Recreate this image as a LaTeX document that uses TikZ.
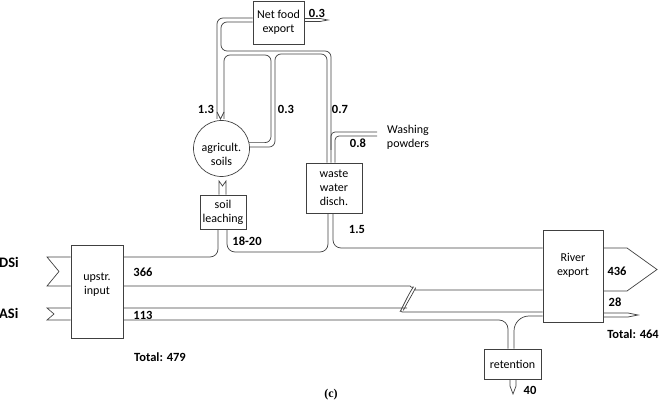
\documentclass[tikz,border=0pt]{standalone}
\usepackage{fontspec}
\setmainfont{Carlito}
\newfontfamily\capfont{Liberation Serif}

\begin{document}
\begin{tikzpicture}[x=1pt,y=-1pt,
    line/.style={line width=0.7pt, draw=black!75},
    flow/.style={line, rounded corners=6pt},
    box/.style={line, fill=white, align=center, inner sep=0pt, font=\fontsize{12}{14}\selectfont},
    txt/.style={align=center, inner sep=0pt, font=\fontsize{12}{14}\selectfont},
    num/.style={inner sep=0pt, font=\bfseries\fontsize{12.5}{14}\selectfont},
    big/.style={inner sep=0pt, anchor=west, font=\bfseries\fontsize{14.5}{16}\selectfont}]
    \useasboundingbox (0,0) rectangle (662,403);

    % Draw boxes and the soil pool
    \node[box, minimum width=52pt, minimum height=93pt] (upstr) at (97,291.5) {};
    \node[txt] (upstrtxt) at (97,285) {upstr.\\input};
    \node[box, minimum width=60pt, minimum height=92pt] (river) at (573,276) {};
    \node[txt] (rivertxt) at (573,265) {River\\export};
    \node[box, minimum width=57pt, minimum height=30pt] (ret) at (512.5,364) {retention};
    \node[box, minimum width=56pt, minimum height=50pt] (waste) at (334,188) {waste\\water\\disch.};
    \node[box, minimum width=46pt, minimum height=34pt] (leach) at (223,212) {soil\\leaching};
    \node[box, minimum width=51pt, minimum height=43pt] (net) at (278.5,22.5) {Net food\\export};
    \node[line, circle, minimum size=56pt, inner sep=0pt] (soils) at (221.5,148.5) {};
    \node[txt] (soilstxt) at (221.5,154) {agricult.\\soils};

    % Inflow tails
    \draw[line] (upstr.west |- 0,257) -- (47,257) -- (59,271.5) -- (47,286) -- (upstr.west |- 0,286);
    \draw[line] (upstr.west |- 0,308) -- (47,308) -- (54,314) -- (47,320) -- (upstr.west |- 0,320);

    % DSi band, fed by leaching and waste water
    \draw[flow, rounded corners=8pt] (upstr.east |- 0,257) -- (218,257) -- (leach.south -| 218,0);
    \draw[flow, rounded corners=8pt] (leach.south -| 227,0) -- (227,252) -- (328,252) -- (waste.south -| 328,0);
    \draw[flow, rounded corners=8pt] (waste.south -| 333,0) -- (333,248) -- (river.west |- 0,248);
    \draw[flow] (upstr.east |- 0,286) -- (404,286) .. controls (411,286) and (412,289) .. (410,292)
        -- (403,306) .. controls (401,310) and (403,312) .. (408,312) -- (river.west |- 0,312);

    % ASi band and retention
    \draw[flow] (upstr.east |- 0,308) -- (401,308) .. controls (405,308) and (405,307) .. (406,305)
        -- (413,293) .. controls (414,291) and (415,290) .. (420,290) -- (river.west |- 0,290);
    \draw[flow, rounded corners=9pt] (upstr.east |- 0,320) -- (508,320) -- (ret.north -| 508,0);
    \draw[flow, rounded corners=15pt] (ret.north -| 514,0) -- (514,316) -- (river.west |- 0,316);
    \draw[line] (ret.south -| 510,0) -- (510,386) -- (513,394) -- (516,386) -- (ret.south -| 516,0);

    % River export arrows
    \draw[line] (river.east |- 0,248) -- (627,248) -- (657,269.5) -- (627,291) -- (river.east |- 0,291);
    \draw[line] (river.east |- 0,313) -- (628,313) -- (638,315) -- (628,317) -- (river.east |- 0,317);

    % Soils to leaching
    \draw[line] (leach.north -| 219,0) -- (219,181) -- (222.5,186) -- (226,181) -- (leach.north -| 226,0);

    % Net food export, top loop and 0.7 pipe
    \draw[flow] (net.west |- 0,18) -- (217,18) -- (217,119);
    \draw[flow] (net.west |- 0,22) -- (221,22) -- (221,51) -- (331,51) -- (waste.north -| 331,0);
    \draw[flow] (soils.12) -| (271,55) -| (224,119);
    \draw[flow] (waste.north -| 327,0) |- (275,54) |- (soils.3);
    \draw[line] (217,112) -- (220.5,119) -- (224,112);
    \draw[line] (net.east |- 0,18.5) -- (320,18.5) -- (328,20) -- (320,21.5) -- (net.east |- 0,21.5);

    % Washing powders
    \coordinate (washA) at (377,132);
    \coordinate (washB) at (377,136);
    \draw[flow, rounded corners=4pt] (washA) -- (331,132) -- (331,150);
    \draw[flow, rounded corners=4pt] (washB) -- (335,136) -- (waste.north -| 335,0);

    % Labels
    \node[big] (dsi) at (-1,262) {DSi};
    \node[big] (asi) at (-1,313) {ASi};
    \node[num] (n366) at (143,272) {366};
    \node[num] (n113) at (143,315) {113};
    \node[num] (tin) at (160,357) {Total: 479};
    \node[num] (n436) at (617,271) {436};
    \node[num] (n28) at (615,302) {28};
    \node[num] (tout) at (633,334) {Total: 464};
    \node[num] (n40) at (530,390) {40};
    \node[num] (n1820) at (247,241) {18-20};
    \node[num] (n15) at (357,229) {1.5};
    \node[num] (n13) at (206,109) {1.3};
    \node[num] (n03a) at (286,109) {0.3};
    \node[num] (n07) at (340,109) {0.7};
    \node[num] (n08) at (358,143) {0.8};
    \node[num] (n03b) at (317,13) {0.3};
    \node[txt] (washtxt) at (408,137) {Washing\\powders};
    \node[inner sep=0pt, font=\capfont\bfseries\fontsize{12}{13}\selectfont] (cap) at (331,395) {(c)};
\end{tikzpicture}
\end{document}
